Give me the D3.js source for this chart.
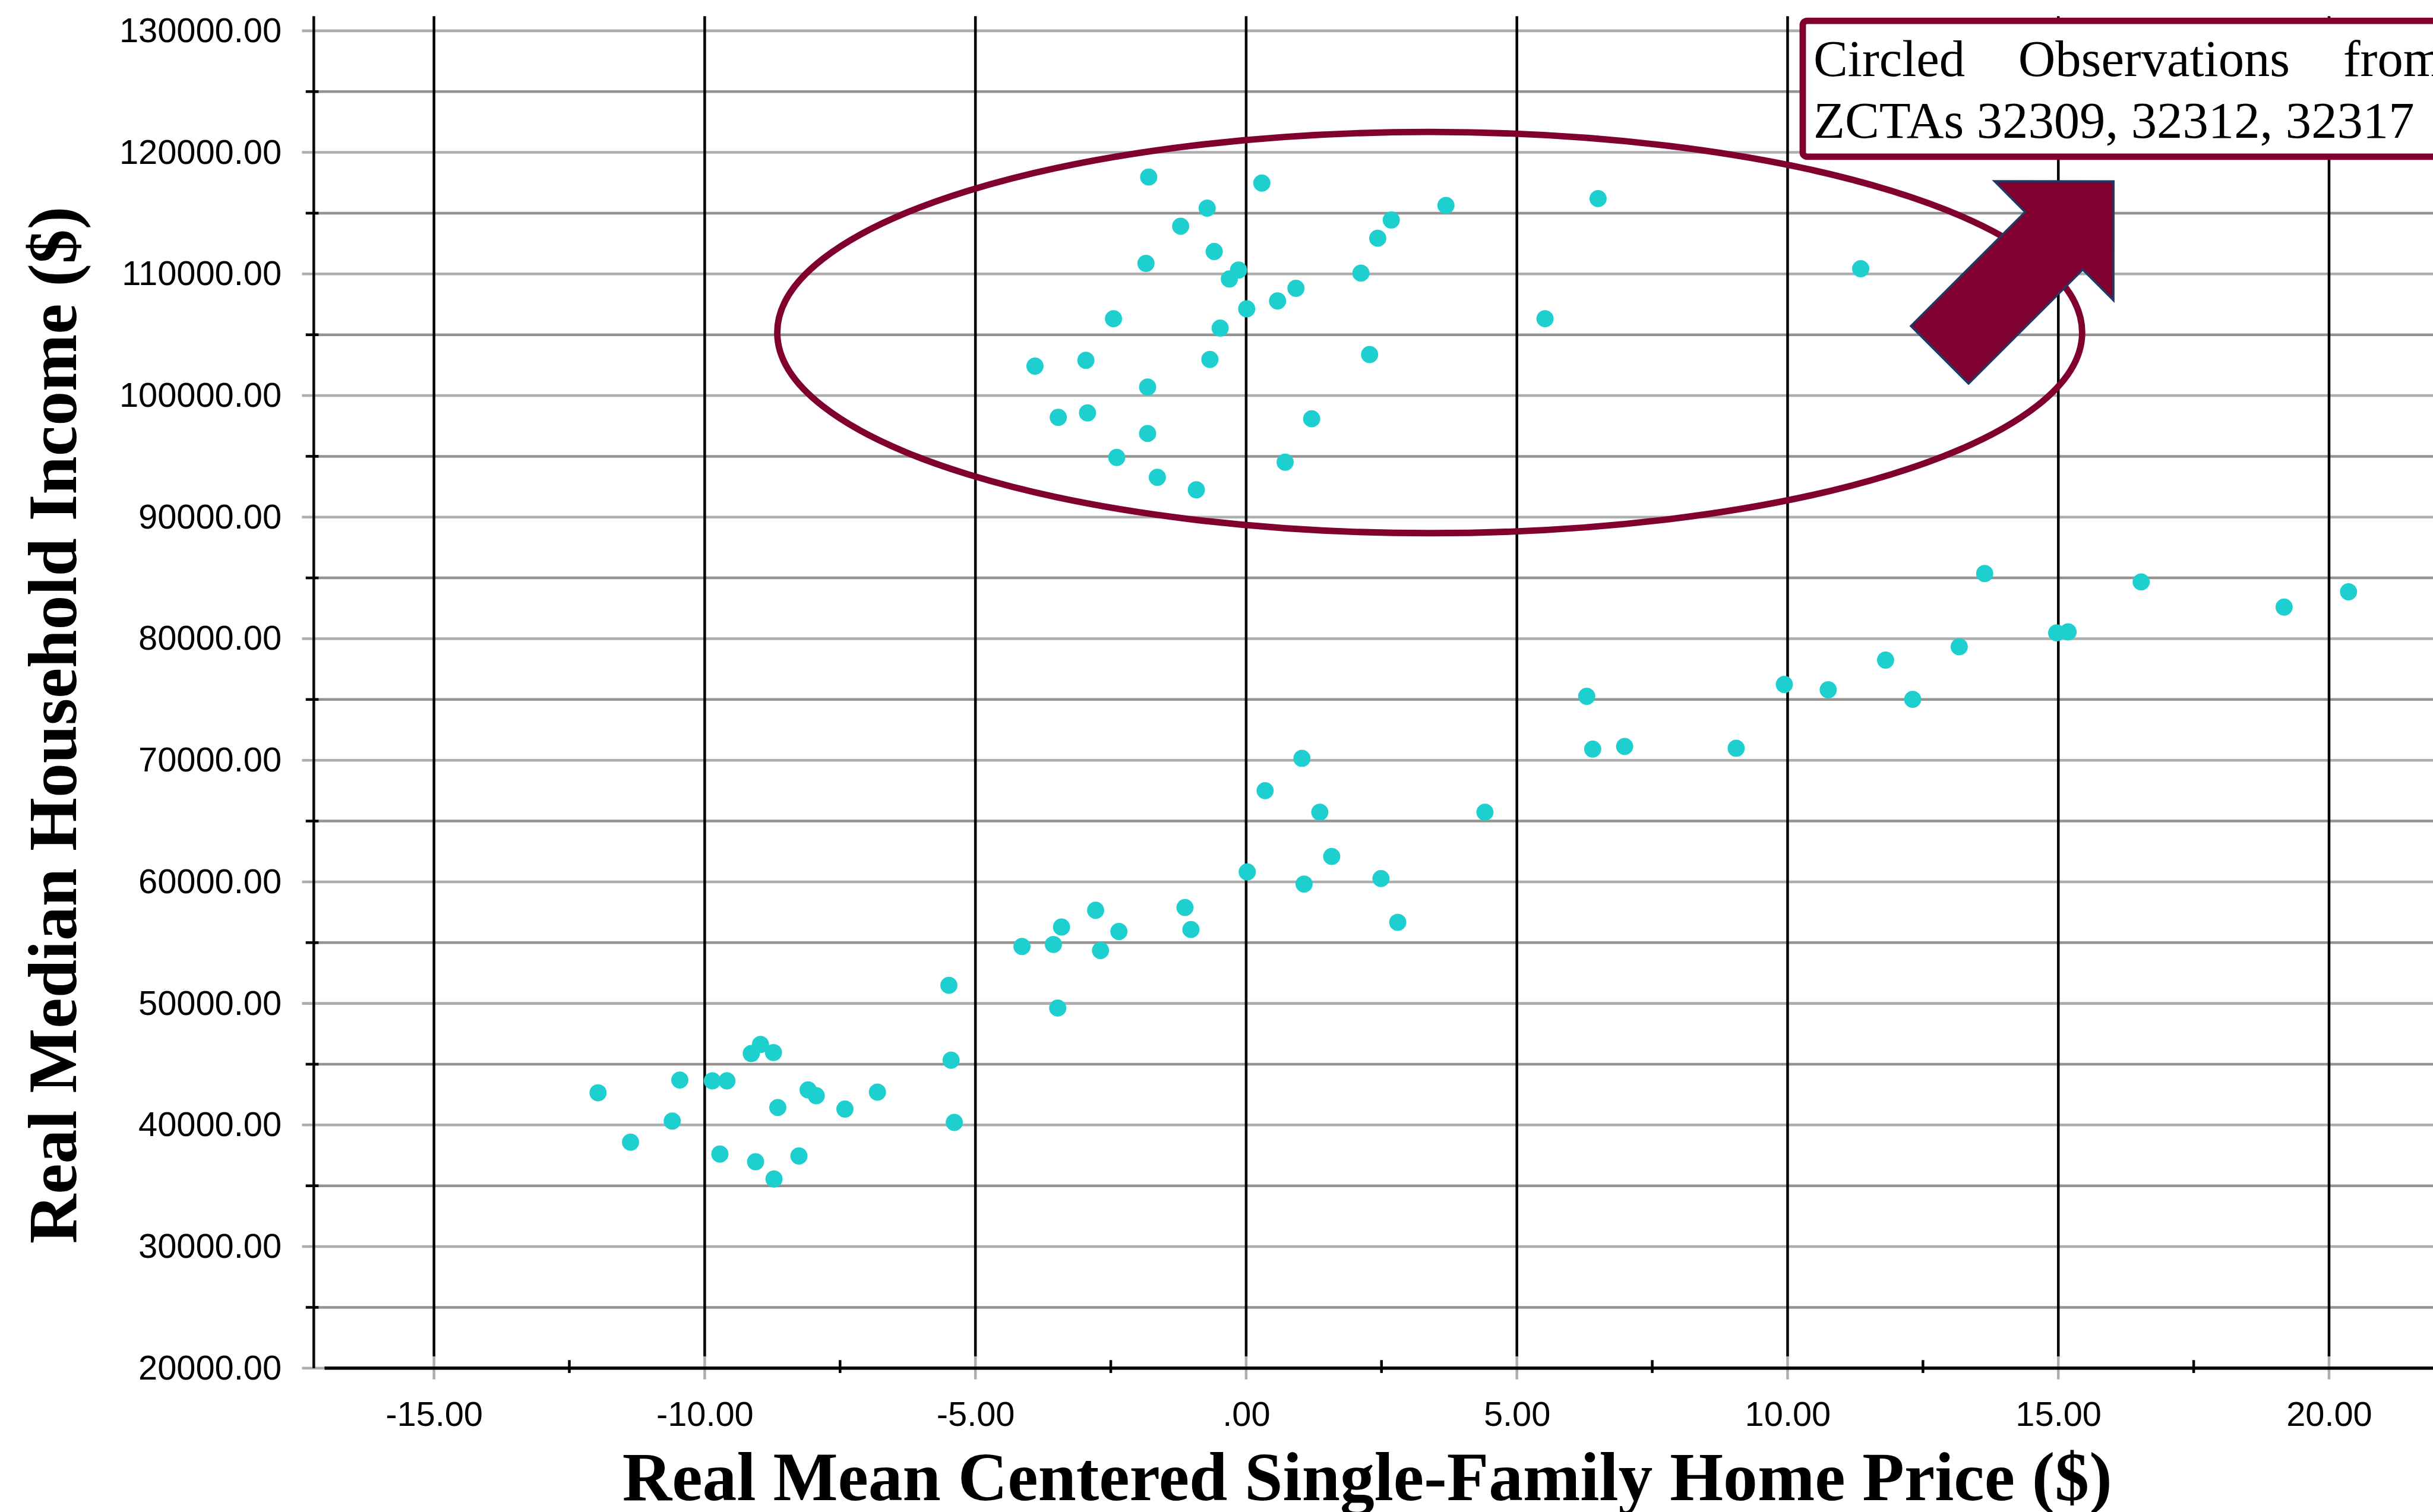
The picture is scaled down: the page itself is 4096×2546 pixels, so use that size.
<!DOCTYPE html>
<html>
<head>
<meta charset="utf-8">
<script src="https://cdn.jsdelivr.net/npm/d3@7"></script>
<style>
  html,
  body {
    margin: 0;
    padding: 0;
    background: #fff;
  }

  svg {
    display: block;
  }
</style>
</head>
<body>
<div id="chart"></div>
<script>
// Real mean centered single-family home price, one entry per observation
const homePrice = [
  -1.80, 0.29, -0.72, -1.21, 3.69, 2.68, 2.43, -0.59, -1.85, -0.14, -0.31,
  2.12, 0.92, 0.58, 0.01, -2.45, 5.52, -0.48, 2.28, -3.90, -2.96, -0.67,
  -1.82, -3.47, -2.93, 1.21, -1.82, -2.39, 0.72, -1.64, -0.92, 6.50, 11.35,
  -11.97, -10.46, -9.86, -9.59, -10.60, -11.37, -9.14, -8.97, -8.73, -8.65,
  -8.09, -7.94, -7.41, -6.81, -9.72, -9.06, -8.26, -8.72,
  -5.49, -5.45, -5.39, -4.14, -3.56, -3.41, -2.78, -2.69, -2.35, -1.13,
  -1.02, -3.48,
  1.03, 0.35, 1.36, 4.41, 1.58, 0.02, 1.07, 2.49, 2.80,
  6.29, 6.40, 6.99, 9.05, 9.94, 10.75, 11.81, 12.31, 13.17, 13.64, 14.97,
  15.18, 16.53, 19.17, 20.36,
];

// Real median household income, same order as homePrice
const householdIncome = [
  117970, 117480, 115410, 113930, 115640, 114440, 112940, 111850, 110870,
  110320, 109590, 110070, 108820, 107780, 107130, 106320, 106320, 105550,
  103370, 102420, 102900, 102970, 100700, 98210, 98570, 98090, 96880, 94910,
  94520, 93270, 92250, 116200, 110430,
  42650, 43700, 43630, 43630, 40320, 38590, 45880, 46620, 45960, 41440,
  42890, 42410, 41310, 42700, 37610, 36980, 37450, 35560,
  51490, 45330, 40210, 54680, 54850, 56280, 57660, 54350, 55920, 57890,
  56080, 49620,
  70160, 67500, 65730, 65730, 62090, 60810, 59820, 60270, 56670,
  75260, 70920, 71140, 70990, 76240, 75800, 78240, 75010, 79340, 85360,
  80480, 80560, 84670, 82600, 83860,
];

const xTicks = [-15, -10, -5, 0, 5, 10, 15, 20];
const xMinorTicks = [-12.5, -7.5, -2.5, 2.5, 7.5, 12.5, 17.5];
const yTicks = [20000, 30000, 40000, 50000, 60000, 70000, 80000, 90000, 100000, 110000, 120000, 130000];
const yMinorTicks = [25000, 35000, 45000, 55000, 65000, 75000, 85000, 95000, 105000, 115000, 125000];

const xTitle = "Real Mean Centered Single-Family Home Price ($)";
const yTitle = "Real Median Household Income ($)";
const noteFirstLine = ["Circled", "Observations", "from"];
const noteSecondLine = "ZCTAs 32309, 32312, 32317";

// Annotation placed in data units: the circled group and the arrow to the note
const circleCenter = [3.39, 105180];
const circleRadius = [12.05, 16500];
const arrowTail = [12.81, 103350];
const arrowTip = [16.02, 117620];

// Drawn in the reference's pixel space, the viewBox scales it to the window
const width = 4536;
const height = 2819;
const plotLeft = 585;
const plotTop = 30;
const plotBottom = 2551;

const maroon = "#80002f";
const dotColor = "#1ecfcf";
const majorGrid = "#aeaeae";
const minorGrid = "#969292";
const tickFont = "'Liberation Sans', Arial, sans-serif";
const titleFont = "'Liberation Serif', 'Times New Roman', serif";

const x = d3.scaleLinear().domain([-17.22, 21.92]).range([plotLeft, width]);
const y = d3.scaleLinear().domain([20000, 131200]).range([plotBottom, plotTop]);

// "-15.00", ".00", "130000.00" with a plain hyphen
const fmt = (v) =>
  d3
    .format(".2f")(v)
    .replace("\u2212", "-")
    .replace(/^(-?)0\./, "$1.");

const svg = d3
  .select("#chart")
  .append("svg")
  .attr("width", 4096)
  .attr("height", 2546)
  .attr("viewBox", `0 0 ${width} ${height}`);

// Horizontal grid: labelled lines lighter, half-way lines darker
svg
  .append("g")
  .attr("stroke", majorGrid)
  .attr("stroke-width", 5)
  .selectAll("line")
  .data(yTicks)
  .enter()
  .append("line")
  .attr("x1", plotLeft - 22)
  .attr("x2", width)
  .attr("y1", (d) => y(d))
  .attr("y2", (d) => y(d));

svg
  .append("g")
  .attr("stroke", minorGrid)
  .attr("stroke-width", 5)
  .selectAll("line")
  .data(yMinorTicks)
  .enter()
  .append("line")
  .attr("x1", plotLeft)
  .attr("x2", width)
  .attr("y1", (d) => y(d))
  .attr("y2", (d) => y(d));

// Vertical grid in black, with a grey tick through the axis
svg
  .append("g")
  .attr("stroke", "#000")
  .attr("stroke-width", 5)
  .selectAll("line")
  .data(xTicks)
  .enter()
  .append("line")
  .attr("x1", (d) => x(d))
  .attr("x2", (d) => x(d))
  .attr("y1", plotTop)
  .attr("y2", plotBottom - 22);

svg
  .append("g")
  .attr("stroke", majorGrid)
  .attr("stroke-width", 5)
  .selectAll("line")
  .data(xTicks)
  .enter()
  .append("line")
  .attr("x1", (d) => x(d))
  .attr("x2", (d) => x(d))
  .attr("y1", plotBottom - 22)
  .attr("y2", plotBottom + 21);

// Minor ticks
svg
  .append("g")
  .attr("stroke", "#000")
  .attr("stroke-width", 5)
  .selectAll("line")
  .data(yMinorTicks)
  .enter()
  .append("line")
  .attr("x1", plotLeft - 15)
  .attr("x2", plotLeft + 9)
  .attr("y1", (d) => y(d))
  .attr("y2", (d) => y(d));

svg
  .append("g")
  .attr("stroke", "#000")
  .attr("stroke-width", 5)
  .selectAll("line")
  .data(xMinorTicks)
  .enter()
  .append("line")
  .attr("x1", (d) => x(d))
  .attr("x2", (d) => x(d))
  .attr("y1", plotBottom - 15)
  .attr("y2", plotBottom + 9);

// Axis lines
svg
  .append("line")
  .attr("x1", plotLeft)
  .attr("x2", plotLeft)
  .attr("y1", plotTop)
  .attr("y2", plotBottom)
  .attr("stroke", "#000")
  .attr("stroke-width", 5);

svg
  .append("line")
  .attr("x1", plotLeft + 20)
  .attr("x2", width)
  .attr("y1", plotBottom)
  .attr("y2", plotBottom)
  .attr("stroke", "#000")
  .attr("stroke-width", 6);

// Tick labels through d3 axes, domain and tick lines hidden
const yAxis = d3.axisLeft(y).tickValues(yTicks).tickSize(0).tickPadding(60).tickFormat(fmt);
const xAxis = d3.axisBottom(x).tickValues(xTicks).tickSize(0).tickPadding(62).tickFormat(fmt);

svg
  .append("g")
  .attr("transform", `translate(${plotLeft},0)`)
  .call(yAxis)
  .call((g) => g.select(".domain").remove())
  .attr("font-family", tickFont)
  .attr("font-size", 64)
  .selectAll("text")
  .attr("fill", "#000");

svg
  .append("g")
  .attr("transform", `translate(0,${plotBottom})`)
  .call(xAxis)
  .call((g) => g.select(".domain").remove())
  .attr("font-family", tickFont)
  .attr("font-size", 64)
  .selectAll("text")
  .attr("fill", "#000");

// Observations
svg
  .append("g")
  .attr("fill", dotColor)
  .selectAll("circle")
  .data(homePrice.map((p, i) => [p, householdIncome[i]]))
  .enter()
  .append("circle")
  .attr("cx", (d) => x(d[0]))
  .attr("cy", (d) => y(d[1]))
  .attr("r", 16);

// Axis titles
svg
  .append("text")
  .attr("x", 2549)
  .attr("y", 2797)
  .attr("text-anchor", "middle")
  .attr("font-family", titleFont)
  .attr("font-weight", "bold")
  .attr("font-size", 128)
  .text(xTitle);

svg
  .append("text")
  .attr("transform", "translate(142,1352)rotate(-90)")
  .attr("text-anchor", "middle")
  .attr("font-family", titleFont)
  .attr("font-weight", "bold")
  .attr("font-size", 128)
  .text(yTitle);

// Circle round the high-income group
svg
  .append("ellipse")
  .attr("cx", x(circleCenter[0]))
  .attr("cy", y(circleCenter[1]))
  .attr("rx", x(circleCenter[0] + circleRadius[0]) - x(circleCenter[0]))
  .attr("ry", y(circleCenter[1] - circleRadius[1]) - y(circleCenter[1]))
  .attr("fill", "none")
  .attr("stroke", maroon)
  .attr("stroke-width", 12);

// Block arrow pointing at the note
const tail = [x(arrowTail[0]), y(arrowTail[1])];
const tip = [x(arrowTip[0]), y(arrowTip[1])];
const len = Math.hypot(tip[0] - tail[0], tip[1] - tail[1]);
const u = [(tip[0] - tail[0]) / len, (tip[1] - tail[1]) / len];
const n = [-u[1], u[0]];
const headLen = 157;
const headHalf = 157;
const shaftHalf = 76;
const base = [tip[0] - u[0] * headLen, tip[1] - u[1] * headLen];
const at = (p, k) => [p[0] + n[0] * k, p[1] + n[1] * k];

svg
  .append("path")
  .attr(
    "d",
    d3.line()([
      at(tail, shaftHalf),
      at(base, shaftHalf),
      at(base, headHalf),
      tip,
      at(base, -headHalf),
      at(base, -shaftHalf),
      at(tail, -shaftHalf),
    ]) + "Z"
  )
  .attr("fill", maroon)
  .attr("stroke", "#1f3864")
  .attr("stroke-width", 4)
  .attr("stroke-linejoin", "miter");

// Note box, running off the right edge
const note = svg.append("g");
note
  .append("rect")
  .attr("x", 3361)
  .attr("y", 38.6)
  .attr("width", 1400)
  .attr("height", 253.4)
  .attr("rx", 8)
  .attr("fill", "#fff")
  .attr("stroke", maroon)
  .attr("stroke-width", 12);

const textLeft = 3381;
const textRight = 4555;

const words = note
  .selectAll("text.word")
  .data(noteFirstLine)
  .enter()
  .append("text")
  .attr("class", "word")
  .attr("y", 142)
  .attr("font-family", titleFont)
  .attr("font-size", 96)
  .text((d) => d);

// Justify the first line like the original
const wordWidths = words.nodes().map((el) => el.getComputedTextLength());
const gap = (textRight - textLeft - d3.sum(wordWidths)) / (noteFirstLine.length - 1);
let cursor = textLeft;
words.attr("x", (d, i) => {
  const pos = cursor;
  cursor += wordWidths[i] + gap;
  return pos;
});

note
  .append("text")
  .attr("x", textLeft)
  .attr("y", 257)
  .attr("font-family", titleFont)
  .attr("font-size", 96)
  .text(noteSecondLine);
</script>
</body>
</html>
